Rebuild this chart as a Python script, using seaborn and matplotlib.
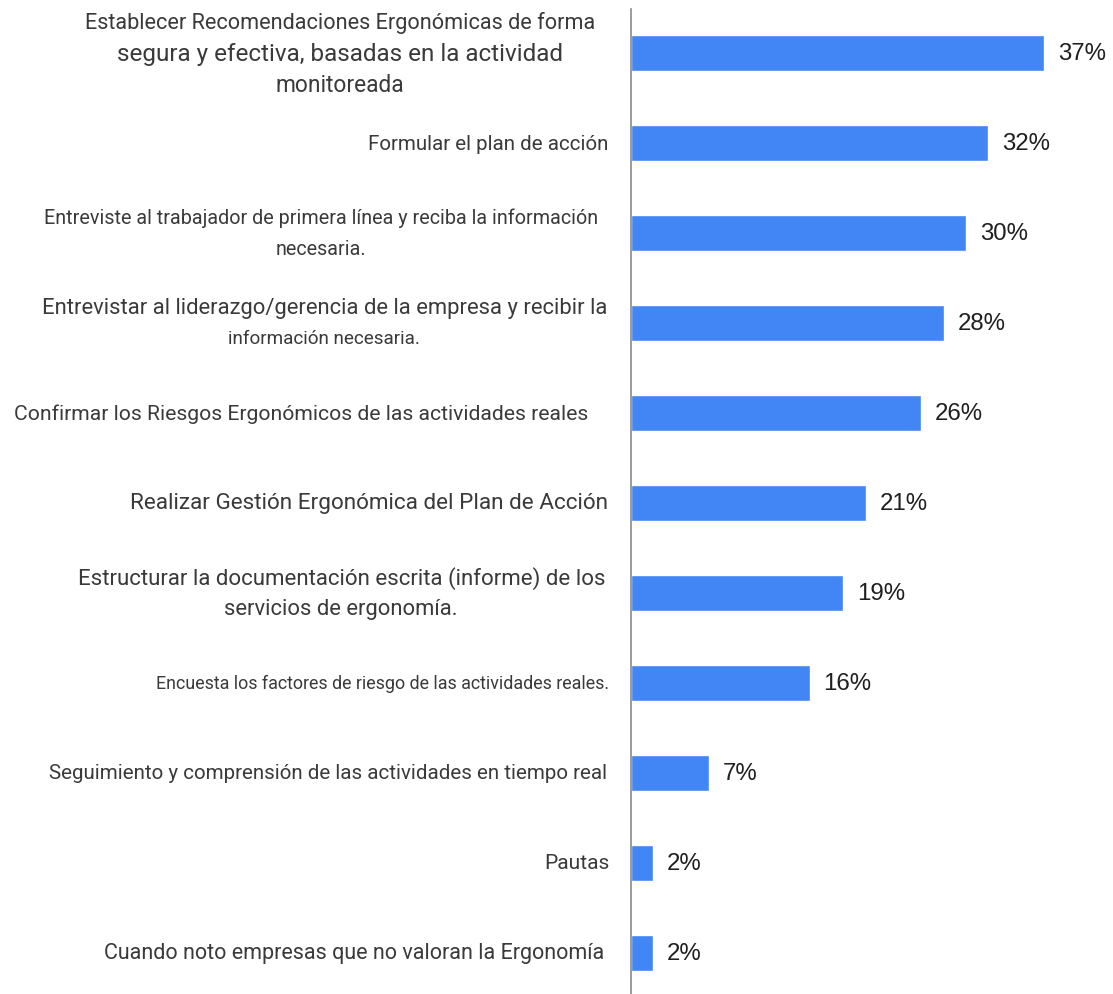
import matplotlib
matplotlib.use("Agg")
import matplotlib.pyplot as plt
import seaborn as sns
import pandas as pd
from matplotlib.transforms import blended_transform_factory, offset_copy

# Survey answers (one label per bar, "\n" marks a line break)
categories = [
    "Establecer Recomendaciones Ergonómicas de forma\nsegura y efectiva, basadas en la actividad\nmonitoreada",
    "Formular el plan de acción",
    "Entreviste al trabajador de primera línea y reciba la información\nnecesaria.",
    "Entrevistar al liderazgo/gerencia de la empresa y recibir la\ninformación necesaria.",
    "Confirmar los Riesgos Ergonómicos de las actividades reales",
    "Realizar Gestión Ergonómica del Plan de Acción",
    "Estructurar la documentación escrita (informe) de los\nservicios de ergonomía.",
    "Encuesta los factores de riesgo de las actividades reales.",
    "Seguimiento y comprensión de las actividades en tiempo real",
    "Pautas",
    "Cuando noto empresas que no valoran la Ergonomía",
]
percent = [37, 32, 30, 28, 26, 21, 19, 16, 7, 2, 2]

# Font size of each line of each label
line_sizes = [
    [15.6, 17.5, 16.4],
    [14.8],
    [14.2, 14.2],
    [15.8, 13.6],
    [15.2],
    [16.2],
    [16.0, 15.8],
    [12.9],
    [14.8],
    [15.0],
    [15.5],
]
# Right edge of each label block, in pixels left of the axis line
label_gap = [36, 23, 33, 24, 43, 23, 26, 22, 24, 21, 27]

BAR_COLOR = "#4285F4"
TEXT_COLOR = "#3a3a3a"

sns.set_theme(style="white")
plt.rcParams["font.family"] = ["Roboto", "DejaVu Sans"]

W, H = 1113, 995
fig = plt.figure(figsize=(W / 100, H / 100), dpi=100)
ax = fig.add_axes([631 / W, 0, 469 / W, 985 / H])

df = pd.DataFrame({"categoria": categories, "porcentaje": percent})
sns.barplot(data=df, y="categoria", x="porcentaje", color=BAR_COLOR,
            saturation=1, width=0.4, orient="h", ax=ax)

ax.set_xlim(0, 42)
ax.set_ylim(len(categories) - 0.54, -0.49)
ax.set_xlabel("")
ax.set_ylabel("")
ax.set_xticks([])
ax.set_yticks([])
for side in ("top", "right", "bottom"):
    ax.spines[side].set_visible(False)
ax.spines["left"].set_color("#8a8a8a")
ax.spines["left"].set_linewidth(1.2)

# Value labels at the end of each bar
for i, v in enumerate(percent):
    ax.annotate(f"{v}%", xy=(v, i), xytext=(10, 0), textcoords="offset points",
                ha="left", va="center", fontsize=17.3, color="#1f1f1f",
                family=["Liberation Sans", "DejaVu Sans"])

# Category labels: each line centred within its block, block right-aligned
renderer = fig.canvas.get_renderer()
trans = blended_transform_factory(ax.transAxes, ax.transData)
line_step = 31  # pixels between line centres
for i, (label, sizes) in enumerate(zip(categories, line_sizes)):
    lines = label.split("\n")
    n = len(lines)
    texts = []
    for k, (line, fs) in enumerate(zip(lines, sizes)):
        dy = -(k - (n - 1) / 2) * line_step
        t = ax.text(0, i, line, fontsize=fs, color=TEXT_COLOR, ha="center",
                    va="center", transform=offset_copy(trans, fig=fig, x=0, y=dy, units="dots"))
        texts.append((t, dy))
    widths = [t.get_window_extent(renderer).width for t, _ in texts]
    centre = -label_gap[i] - max(widths) / 2
    for t, dy in texts:
        t.set_transform(offset_copy(trans, fig=fig, x=centre, y=dy, units="dots"))

fig.savefig("out.png", dpi=100)
